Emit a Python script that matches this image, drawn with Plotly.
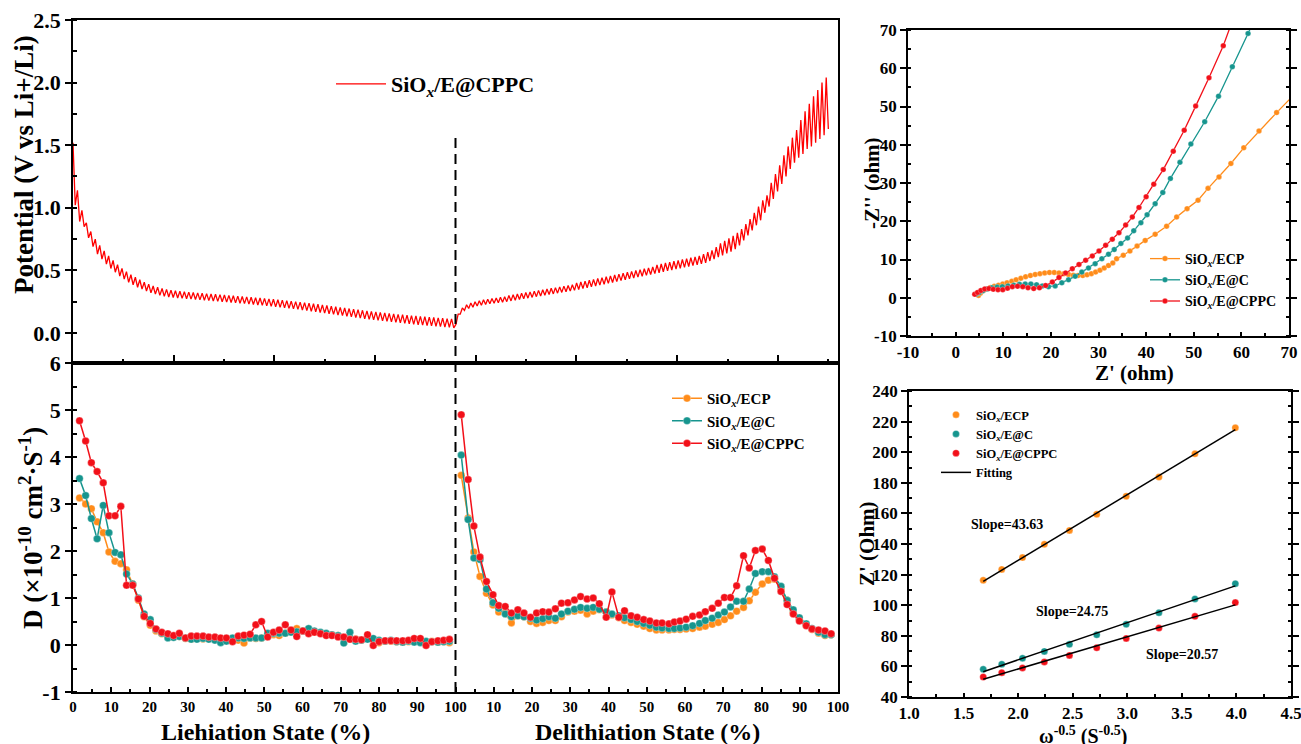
import numpy as np
import plotly.graph_objects as go

# ======================= DATA =======================
# --- GITT potential profile (top-left): one value pair per titration cycle
lith_cycle_h = 1.0
delith_cycle_h = 0.95
lith_relaxed_v = [1.52, 1.14, 0.98, 0.88, 0.81, 0.75, 0.70, 0.655, 0.615, 0.58,
                  0.545, 0.515, 0.49, 0.465, 0.445, 0.425, 0.405, 0.39, 0.375, 0.365,
                  0.355, 0.348, 0.342, 0.337, 0.333, 0.329, 0.326, 0.323, 0.320, 0.317,
                  0.314, 0.311, 0.309, 0.306, 0.303, 0.300, 0.297, 0.294, 0.291, 0.288,
                  0.285, 0.282, 0.279, 0.276, 0.272, 0.269, 0.265, 0.262, 0.258, 0.254,
                  0.250, 0.246, 0.242, 0.238, 0.233, 0.229, 0.224, 0.219, 0.214, 0.209,
                  0.204, 0.199, 0.195, 0.190, 0.186, 0.181, 0.177, 0.173, 0.169, 0.165,
                  0.161, 0.157, 0.153, 0.149, 0.146, 0.142, 0.139, 0.136, 0.133, 0.130,
                  0.127, 0.124, 0.121, 0.118, 0.115, 0.112]
lith_pulse_v = [1.02, 0.89, 0.85, 0.76, 0.69, 0.63, 0.59, 0.55, 0.515, 0.485,
                0.455, 0.43, 0.405, 0.385, 0.365, 0.35, 0.335, 0.32, 0.31, 0.30,
                0.292, 0.287, 0.283, 0.279, 0.276, 0.273, 0.270, 0.267, 0.264, 0.261,
                0.258, 0.255, 0.252, 0.249, 0.246, 0.243, 0.240, 0.237, 0.234, 0.230,
                0.227, 0.223, 0.220, 0.216, 0.212, 0.208, 0.204, 0.200, 0.196, 0.192,
                0.188, 0.183, 0.178, 0.173, 0.168, 0.163, 0.158, 0.153, 0.148, 0.143,
                0.138, 0.133, 0.128, 0.123, 0.118, 0.113, 0.108, 0.104, 0.100, 0.096,
                0.092, 0.088, 0.084, 0.080, 0.076, 0.072, 0.068, 0.065, 0.062, 0.059,
                0.056, 0.053, 0.050, 0.047, 0.044, 0.040]
delith_relaxed_v = [0.07, 0.15, 0.18, 0.195, 0.205, 0.215, 0.222, 0.228, 0.233, 0.238,
                    0.242, 0.246, 0.250, 0.256, 0.261, 0.267, 0.273, 0.278, 0.284, 0.290,
                    0.295, 0.301, 0.307, 0.312, 0.318, 0.324, 0.329, 0.335, 0.340, 0.347,
                    0.354, 0.361, 0.368, 0.375, 0.382, 0.389, 0.396, 0.403, 0.410, 0.418,
                    0.425, 0.432, 0.439, 0.446, 0.453, 0.460, 0.467, 0.474, 0.481, 0.489,
                    0.496, 0.503, 0.510, 0.517, 0.524, 0.531, 0.538, 0.545, 0.552, 0.560,
                    0.575, 0.59, 0.605, 0.62, 0.635, 0.65, 0.67, 0.70, 0.74, 0.78,
                    0.82, 0.86, 0.90, 0.96, 1.01, 1.07, 1.13, 1.19, 1.25, 1.31,
                    1.36, 1.40, 1.43, 1.47, 1.49, 1.52, 1.55, 1.58]
delith_pulse_v = [0.15, 0.20, 0.225, 0.24, 0.25, 0.258, 0.265, 0.27, 0.275, 0.28,
                  0.285, 0.29, 0.300, 0.306, 0.311, 0.317, 0.323, 0.328, 0.334, 0.340,
                  0.345, 0.351, 0.357, 0.362, 0.368, 0.374, 0.379, 0.385, 0.400, 0.407,
                  0.414, 0.421, 0.428, 0.435, 0.442, 0.449, 0.456, 0.463, 0.470, 0.478,
                  0.485, 0.492, 0.499, 0.506, 0.513, 0.520, 0.527, 0.544, 0.551, 0.559,
                  0.566, 0.573, 0.580, 0.587, 0.594, 0.601, 0.608, 0.615, 0.63, 0.645,
                  0.66, 0.685, 0.715, 0.735, 0.755, 0.775, 0.80, 0.83, 0.87, 0.91,
                  0.96, 1.01, 1.06, 1.10, 1.20, 1.27, 1.34, 1.42, 1.49, 1.56,
                  1.62, 1.70, 1.77, 1.83, 1.89, 1.94, 2.00, 2.04]
delith_last_v = 1.63

# --- Diffusion coefficients (bottom-left), D in 1e-10 cm2/s
lith_state = [1.7, 3.3, 4.8, 6.3, 7.9, 9.4, 11.0, 12.5, 14.0, 15.6,
              17.1, 18.6, 20.2, 21.7, 23.2, 24.8, 26.3, 27.8, 29.4, 30.9,
              32.4, 34.0, 35.5, 37.1, 38.6, 40.1, 41.7, 43.2, 44.7, 46.3,
              47.8, 49.3, 50.9, 52.4, 53.9, 55.5, 57.0, 58.5, 60.1, 61.6,
              63.1, 64.7, 66.2, 67.7, 69.3, 70.8, 72.4, 73.9, 75.4, 77.0,
              78.5, 80.0, 81.6, 83.1, 84.6, 86.2, 87.7, 89.2, 90.8, 92.3,
              93.8, 95.4, 96.9, 98.4]
lith_D_ecp = [3.13, 3.00, 2.90, 2.62, 2.39, 1.98, 1.78, 1.73, 1.60, 1.30,
              0.95, 0.60, 0.42, 0.30, 0.24, 0.20, 0.17, 0.18, 0.14, 0.12,
              0.14, 0.13, 0.14, 0.12, 0.13, 0.12, 0.12, 0.10, 0.04, 0.15,
              0.14, 0.15, 0.22, 0.22, 0.20, 0.25, 0.30, 0.35, 0.30, 0.28,
              0.27, 0.25, 0.22, 0.22, 0.20, 0.15, 0.12, 0.12, 0.10, 0.15,
              0.10, 0.05, 0.08, 0.08, 0.07, 0.06, 0.07, 0.08, 0.07, 0.06,
              0.08, 0.06, 0.07, 0.05]
lith_D_ec = [3.54, 3.18, 2.69, 2.26, 2.97, 2.39, 1.97, 1.92, 1.51, 1.30,
             1.00, 0.66, 0.54, 0.33, 0.25, 0.15, 0.16, 0.18, 0.15, 0.12,
             0.12, 0.14, 0.12, 0.10, 0.05, 0.08, 0.15, 0.15, 0.14, 0.15,
             0.15, 0.15, 0.25, 0.25, 0.25, 0.25, 0.27, 0.28, 0.30, 0.35,
             0.30, 0.27, 0.25, 0.22, 0.20, 0.04, 0.27, 0.08, 0.10, 0.12,
             0.14, 0.10, 0.08, 0.10, 0.07, 0.06, 0.08, 0.06, 0.05, 0.08,
             0.07, 0.06, 0.07, 0.08]
lith_D_cppc = [4.77, 4.34, 3.88, 3.69, 3.45, 2.75, 2.75, 2.95, 1.27, 1.27,
               0.98, 0.61, 0.46, 0.34, 0.27, 0.24, 0.20, 0.25, 0.15, 0.19,
               0.19, 0.19, 0.17, 0.17, 0.15, 0.15, 0.07, 0.19, 0.21, 0.23,
               0.43, 0.50, 0.17, 0.27, 0.32, 0.43, 0.32, 0.18, 0.30, 0.24,
               0.27, 0.24, 0.20, 0.20, 0.17, 0.17, 0.12, 0.12, 0.11, 0.22,
               -0.01, 0.07, 0.09, 0.09, 0.09, 0.09, 0.10, 0.14, 0.14, -0.01,
               0.07, 0.09, 0.10, 0.12]

delith_state = [1.5, 3.3, 4.8, 6.4, 8.1, 9.8, 11.3, 13.0, 14.6, 16.3,
                17.9, 19.6, 21.2, 22.8, 24.4, 26.1, 27.7, 29.4, 31.1, 32.7,
                34.4, 36.0, 37.6, 39.4, 40.9, 42.7, 44.2, 45.9, 47.5, 49.2,
                50.8, 52.5, 54.0, 55.8, 57.2, 58.7, 60.3, 62.0, 63.8, 65.3,
                67.1, 68.7, 70.3, 71.9, 73.5, 75.3, 76.8, 78.4, 80.2, 81.8,
                83.4, 85.1, 86.7, 88.3, 89.9, 91.7, 93.2, 94.9, 96.6, 98.2]
delith_D_ecp = [3.61, 2.70, 1.98, 1.46, 1.10, 0.85, 0.70, 0.68, 0.47, 0.62,
                0.60, 0.50, 0.46, 0.48, 0.52, 0.52, 0.60, 0.70, 0.72, 0.74,
                0.66, 0.72, 0.75, 0.70, 0.64, 0.58, 0.52, 0.48, 0.44, 0.40,
                0.35, 0.32, 0.32, 0.32, 0.33, 0.33, 0.34, 0.35, 0.38, 0.40,
                0.44, 0.48, 0.54, 0.62, 0.72, 0.80, 0.94, 1.12, 1.30, 1.38,
                1.40, 1.20, 0.95, 0.70, 0.55, 0.42, 0.33, 0.25, 0.20, 0.22]
delith_D_ec = [4.04, 2.67, 1.85, 1.82, 1.19, 0.90, 0.78, 0.66, 0.60, 0.62,
               0.60, 0.57, 0.53, 0.56, 0.60, 0.57, 0.66, 0.72, 0.76, 0.80,
               0.78, 0.80, 0.76, 0.70, 0.66, 0.62, 0.58, 0.54, 0.50, 0.46,
               0.42, 0.38, 0.36, 0.35, 0.35, 0.36, 0.38, 0.41, 0.46, 0.52,
               0.57, 0.64, 0.70, 0.81, 0.93, 0.93, 1.19, 1.52, 1.56, 1.56,
               1.45, 1.25, 0.95, 0.75, 0.58, 0.45, 0.35, 0.27, 0.22, 0.22]
delith_D_cppc = [4.90, 3.52, 2.53, 1.87, 1.35, 1.07, 0.84, 0.82, 0.68, 0.75,
                 0.68, 0.59, 0.68, 0.71, 0.70, 0.77, 0.89, 0.90, 0.96, 1.03,
                 0.98, 1.00, 0.88, 0.59, 1.13, 0.59, 0.73, 0.62, 0.59, 0.54,
                 0.51, 0.47, 0.47, 0.45, 0.49, 0.51, 0.55, 0.61, 0.64, 0.71,
                 0.78, 0.89, 1.01, 1.01, 1.26, 1.90, 1.64, 2.01, 2.04, 1.80,
                 1.42, 1.14, 0.86, 0.66, 0.51, 0.41, 0.34, 0.32, 0.30, 0.24]

# --- Nyquist plots (top-right)
eis_zre_ecp = [4.8, 5.2, 5.8, 6.5, 7.3, 8.1, 9.0, 9.9, 10.8, 11.8,
               12.7, 13.7, 14.7, 15.7, 16.7, 17.7, 18.7, 19.7, 20.7, 21.7,
               22.7, 23.7, 24.7, 25.7, 26.7, 27.6, 28.5, 29.4, 30.3, 31.2,
               32.1, 33.0, 33.8, 35.2, 36.6, 38.1, 39.8, 41.9, 44.3, 46.4,
               48.6, 50.9, 53.0, 55.3, 57.8, 60.5, 63.7, 67.4, 71.0]
eis_zim_ecp = [0.6, 1.2, 1.8, 2.3, 2.7, 3.0, 3.3, 3.6, 3.9, 4.3,
               4.7, 5.1, 5.5, 5.8, 6.1, 6.3, 6.5, 6.6, 6.6, 6.5,
               6.3, 6.1, 5.9, 5.8, 5.8, 6.0, 6.3, 6.7, 7.2, 7.8,
               8.4, 9.1, 10.2, 11.1, 12.2, 13.5, 15.0, 16.6, 18.7, 21.1,
               23.3, 25.5, 28.6, 31.6, 35.1, 39.2, 43.6, 48.4, 53.0]
eis_zre_ec = [4.3, 4.9, 5.7, 6.6, 7.6, 8.7, 9.8, 11.0, 12.2, 13.4,
              14.6, 15.8, 17.0, 18.2, 19.5, 20.9, 22.3, 23.7, 25.1, 26.5,
              27.9, 29.3, 30.7, 32.1, 33.3, 34.7, 36.1, 37.4, 38.9, 40.2,
              41.9, 43.5, 45.1, 47.1, 49.4, 52.3, 55.2, 58.1, 61.4, 62.5]
eis_zim_ec = [0.9, 1.3, 1.8, 2.3, 2.6, 2.8, 2.9, 3.1, 3.3, 3.5,
              3.6, 3.6, 3.4, 3.1, 2.9, 3.1, 3.9, 4.7, 5.6, 6.7,
              7.8, 8.9, 10.2, 11.4, 12.6, 14.2, 15.6, 17.5, 19.6, 21.7,
              24.6, 27.5, 31.2, 35.4, 40.2, 46.0, 52.7, 60.4, 69.1, 72.0]
eis_zre_cppc = [4.0, 4.6, 5.3, 6.1, 7.0, 7.9, 8.9, 9.9, 10.9, 11.9,
                13.0, 14.1, 15.2, 16.4, 17.6, 18.9, 20.3, 21.7, 23.1, 24.5,
                25.9, 27.3, 28.7, 30.1, 31.5, 32.9, 34.3, 35.7, 37.1, 38.5,
                40.0, 41.6, 43.6, 45.7, 48.0, 50.4, 53.2, 56.2, 58.0]
eis_zim_cppc = [0.9, 1.4, 1.9, 2.3, 2.4, 2.2, 2.1, 2.1, 2.5, 2.9,
                3.0, 2.9, 2.6, 2.4, 2.6, 3.2, 4.1, 5.3, 6.5, 7.6,
                8.7, 9.8, 10.9, 12.2, 13.7, 15.3, 17.0, 19.0, 21.1, 23.6,
                26.4, 29.7, 33.5, 38.3, 43.8, 50.1, 57.5, 65.9, 72.0]

# --- Warburg region Z' vs omega^-0.5 (bottom-right)
w_inv_sqrt = [1.68, 1.85, 2.04, 2.24, 2.47, 2.72, 2.99, 3.29, 3.62, 3.99]
zre_w_ecp = [116.3, 123.4, 131.1, 139.8, 148.9, 159.4, 171.2, 183.8, 199.0, 216.0]
zre_w_ec = [58.1, 61.4, 65.3, 69.8, 74.4, 80.7, 87.5, 95.1, 104.1, 114.1]
zre_w_cppc = [53.1, 55.9, 59.0, 62.9, 67.2, 72.2, 78.3, 85.1, 92.7, 101.7]
slope_labels = ["Slope=43.63", "Slope=24.75", "Slope=20.57"]

names = ["SiO<sub><i>x</i></sub>/ECP", "SiO<sub><i>x</i></sub>/E@C", "SiO<sub><i>x</i></sub>/E@CPPC"]

# tick values / labels
pot_ticks = [0.0, 0.5, 1.0, 1.5, 2.0, 2.5]
d_ticks = [-1, 0, 1, 2, 3, 4, 5, 6]
state_ticks = [0, 10, 20, 30, 40, 50, 60, 70, 80, 90, 100]
eis_ticks = [-10, 0, 10, 20, 30, 40, 50, 60, 70]
w_ticks = [1.0, 1.5, 2.0, 2.5, 3.0, 3.5, 4.0, 4.5]
zw_ticks = [40, 60, 80, 100, 120, 140, 160, 180, 200, 220, 240]

# ======================= STYLE =======================
FONT = "Liberation Serif"
ORANGE = "#FF8C1A"
TEAL = "#16958E"
RED = "#F21019"
COLORS = [ORANGE, TEAL, RED]
W, H = 1301, 744

def px_x(p):
    return p / W

def px_y(p):
    return 1 - p / H

def lab(v, fmt="{:g}"):
    return fmt.format(v)

fig = go.Figure()

# ---- GITT trace
t_vals, v_vals = [], []
for i, (r, p) in enumerate(zip(lith_relaxed_v, lith_pulse_v)):
    t0 = i * lith_cycle_h
    t_vals += [t0, t0 + 0.5 * lith_cycle_h]
    v_vals += [r, p]
t_switch = len(lith_relaxed_v) * lith_cycle_h
for j, (r, p) in enumerate(zip(delith_relaxed_v, delith_pulse_v)):
    t0 = t_switch + j * delith_cycle_h
    t_vals += [t0, t0 + 0.5 * delith_cycle_h]
    v_vals += [r, p]
t_vals.append(t_switch + len(delith_relaxed_v) * delith_cycle_h)
v_vals.append(delith_last_v)

fig.add_trace(go.Scatter(x=t_vals, y=v_vals, mode="lines", name=names[2],
                         line=dict(color="#FF0000", width=1.3),
                         xaxis="x", yaxis="y", legend="legend"))

# ---- D traces
lith_series = [lith_D_ecp, lith_D_ec, lith_D_cppc]
delith_series = [delith_D_ecp, delith_D_ec, delith_D_cppc]
for k in range(3):
    xs = list(lith_state) + [None] + [100 + s for s in delith_state]
    ys = list(lith_series[k]) + [None] + list(delith_series[k])
    fig.add_trace(go.Scatter(x=xs, y=ys, mode="lines+markers", name=names[k],
                             line=dict(color=COLORS[k], width=1.5),
                             marker=dict(color=COLORS[k], size=7.5,
                                         line=dict(width=0.6, color="rgba(255,255,255,0.5)")),
                             connectgaps=False,
                             xaxis="x2", yaxis="y2", legend="legend2"))

# ---- Nyquist traces
eis = [(eis_zre_ecp, eis_zim_ecp), (eis_zre_ec, eis_zim_ec), (eis_zre_cppc, eis_zim_cppc)]
for k in range(3):
    fig.add_trace(go.Scatter(x=eis[k][0], y=eis[k][1], mode="lines+markers", name=names[k],
                             line=dict(color=COLORS[k], width=1.3),
                             marker=dict(color=COLORS[k], size=5.5,
                                         line=dict(width=0.5, color="rgba(255,255,255,0.5)")),
                             xaxis="x3", yaxis="y3", legend="legend3"))

# ---- Warburg traces and fits
wser = [zre_w_ecp, zre_w_ec, zre_w_cppc]
for k in range(3):
    fig.add_trace(go.Scatter(x=w_inv_sqrt, y=wser[k], mode="markers", name=names[k],
                             marker=dict(color=COLORS[k], size=7,
                                         line=dict(width=0.6, color="rgba(255,255,255,0.5)")),
                             xaxis="x4", yaxis="y4", legend="legend4"))
wx = np.array(w_inv_sqrt)
for k in range(3):
    slope, icpt = np.polyfit(wx, np.array(wser[k]), 1)
    xf = [wx.min(), wx.max()]
    fig.add_trace(go.Scatter(x=xf, y=[slope * v + icpt for v in xf], mode="lines",
                             name="Fitting", showlegend=(k == 2),
                             line=dict(color="black", width=1.5),
                             xaxis="x4", yaxis="y4", legend="legend4"))

# ======================= LAYOUT =======================
LW = 1.8
def axis_common(**kw):
    d = dict(showgrid=False, zeroline=False, showline=True, linecolor="black",
             linewidth=LW, mirror=True, ticks="outside", tickcolor="black",
             tickwidth=1.5, ticklen=6, automargin=False,
             tickfont=dict(family=FONT, size=17, color="black", weight="bold"))
    d.update(kw)
    return d

XL = [px_x(73), px_x(838)]
layout = dict(
    width=W, height=H, margin=dict(l=0, r=0, t=0, b=0, autoexpand=False),
    paper_bgcolor="white", plot_bgcolor="white",
    font=dict(family=FONT, color="black", weight="bold"),
    xaxis=axis_common(domain=XL, range=[0, 171.77], tick0=0, dtick=22.61,
                      ticks="inside", ticklen=8, showticklabels=False,
                      minor=dict(dtick=11.305, ticks="inside", ticklen=4, tickcolor="black"),
                      anchor="y"),
    yaxis=axis_common(domain=[px_y(363), px_y(20)], range=[-0.24, 2.5],
                      tickvals=pot_ticks, ticktext=[lab(v, "{:.1f}") for v in pot_ticks],
                      anchor="x",
                      tickfont=dict(family=FONT, size=22, color="black", weight="bold"),
                      minor=dict(dtick=0.25, ticks="inside", ticklen=4, tickcolor="black")),
    xaxis2=axis_common(domain=XL, range=[0, 200],
                       tickvals=state_ticks + [100 + v for v in state_ticks[1:]],
                       ticktext=[lab(v) for v in state_ticks] + [lab(v) for v in state_ticks[1:]],
                       ticks="inside", ticklen=5, anchor="y2",
                       tickfont=dict(family=FONT, size=15, color="black", weight="bold"),
                       minor=dict(dtick=5, ticks="inside", ticklen=3, tickcolor="black")),
    yaxis2=axis_common(domain=[px_y(692), px_y(363)], range=[-1, 6],
                       tickvals=d_ticks, ticktext=[lab(v) for v in d_ticks], anchor="x2",
                       tickfont=dict(family=FONT, size=22, color="black", weight="bold"),
                       minor=dict(dtick=0.5, ticks="inside", ticklen=4, tickcolor="black")),
    xaxis3=axis_common(domain=[px_x(908), px_x(1289)], range=[-10, 70],
                       tickvals=eis_ticks, ticktext=[lab(v) for v in eis_ticks], anchor="y3",
                       ticks="inside", ticklen=4, ticklabeloverflow="allow",
                       minor=dict(dtick=5, ticks="inside", ticklen=3, tickcolor="black")),
    yaxis3=axis_common(domain=[px_y(336), px_y(30)], range=[-10, 70],
                       tickvals=eis_ticks, ticktext=[lab(v) for v in eis_ticks], anchor="x3",
                       mirror="ticks",
                       minor=dict(dtick=5, ticks="inside", ticklen=3, tickcolor="black")),
    xaxis4=axis_common(domain=[px_x(909), px_x(1291)], range=[1.0, 4.5],
                       tickvals=w_ticks, ticktext=[lab(v, "{:.1f}") for v in w_ticks],
                       anchor="y4", ticks="inside", ticklen=4, ticklabeloverflow="allow",
                       minor=dict(dtick=0.25, ticks="inside", ticklen=3, tickcolor="black")),
    yaxis4=axis_common(domain=[px_y(697), px_y(391)], range=[40, 240],
                       tickvals=zw_ticks, ticktext=[lab(v) for v in zw_ticks], anchor="x4",
                       mirror="ticks",
                       minor=dict(dtick=10, ticks="inside", ticklen=3, tickcolor="black")),
    legend=dict(x=px_x(331), y=px_y(63), xanchor="left", yanchor="top",
                bgcolor="rgba(0,0,0,0)", itemwidth=50,
                font=dict(family=FONT, size=22, color="black", weight="bold")),
    legend2=dict(x=px_x(667), y=px_y(382), xanchor="left", yanchor="top",
                 bgcolor="rgba(0,0,0,0)", tracegroupgap=0,
                 font=dict(family=FONT, size=15, color="black", weight="bold")),
    legend3=dict(x=px_x(1145), y=px_y(243), xanchor="left", yanchor="top",
                 bgcolor="rgba(0,0,0,0)", tracegroupgap=0,
                 font=dict(family=FONT, size=14, color="black", weight="bold")),
    legend4=dict(x=px_x(936), y=px_y(400), xanchor="left", yanchor="top",
                 bgcolor="rgba(0,0,0,0)", tracegroupgap=0,
                 font=dict(family=FONT, size=12.5, color="black", weight="bold")),
    showlegend=True,
)
fig.update_layout(**layout)

# dashed separator between lithiation and delithiation
fig.add_shape(type="line", xref="x2", yref="paper", x0=100, x1=100,
              y0=px_y(692), y1=px_y(138),
              line=dict(color="black", width=2, dash="10px,6px"))

def title(text, x, y, size, angle=0):
    fig.add_annotation(text=text, xref="paper", yref="paper", x=px_x(x), y=px_y(y),
                       xanchor="center", yanchor="middle", showarrow=False, textangle=angle,
                       font=dict(family=FONT, size=size, color="black", weight="bold"))

title("Potential (V vs Li+/Li)", 24, 165, 27, -90)
title("D (×10<sup>-10</sup> cm<sup>2</sup>·S<sup>-1</sup>)", 31, 528, 27, -90)
title("Liehiation State (%)", 265, 732, 24)
title("Delithiation State (%)", 647, 732, 24)
title("-Z'' (ohm)", 872, 183, 21, -90)
title("Z' (ohm)", 1134, 373, 21)
title("Z' (Ohm)", 867, 544, 21, -90)
title("ω<sup>-0.5</sup> (S<sup>-0.5</sup>)", 1083, 735, 20)

# slope labels placed in data coordinates of the Warburg panel
slope_pos = [(1.90, 153), (2.49, 95.6), (3.50, 68.1)]
for txt, (sx, sy) in zip(slope_labels, slope_pos):
    fig.add_annotation(text=txt, xref="x4", yref="y4", x=sx, y=sy, showarrow=False,
                       xanchor="center", yanchor="middle",
                       font=dict(family=FONT, size=14, color="black", weight="bold"))

fig.write_html("out.html")
